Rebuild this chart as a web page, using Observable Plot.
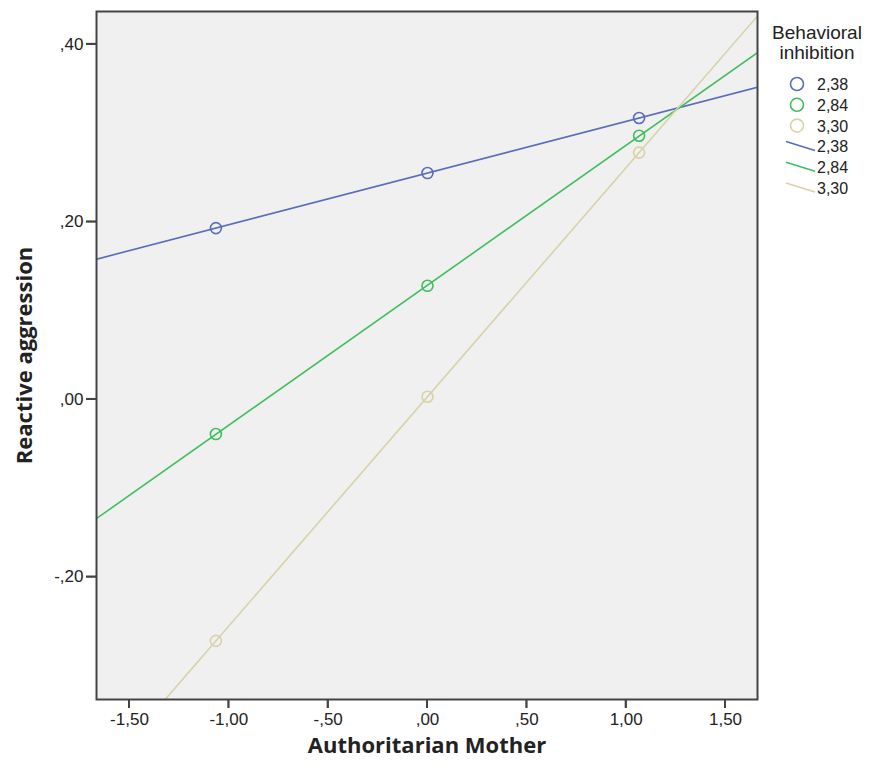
<!DOCTYPE html>
<html>
<head>
<meta charset="utf-8">
<script src="https://cdn.jsdelivr.net/npm/d3@7"></script>
<script src="https://cdn.jsdelivr.net/npm/@observablehq/plot@0.6"></script>
<style>
  html, body { margin: 0; padding: 0; background: #fff; }
  #wrap { position: relative; width: 872px; height: 771px; }
  #legend { position: absolute; left: 0; top: 0; }
</style>
</head>
<body>
<div id="wrap"></div>
<script>
// ---- Data ----
const groups = ["2,38", "2,84", "3,30"];          // Behavioral inhibition levels
const colors = ["#5a6dbb", "#3fbf5c", "#d8d2a6"];
const xPoints = [-1.065, 0, 1.065];                 // Authoritarian Mother (points)
const yBlue  = [0.193, 0.255, 0.317];
const yGreen = [-0.039, 0.128, 0.297];
const yTan   = [-0.272, 0.003, 0.278];
const xTicks = [-1.5, -1.0, -0.5, 0, 0.5, 1.0, 1.5];
const yTicks = [-0.2, 0, 0.2, 0.4];
const xDomain = [-1.666, 1.661];
const yDomain = [-0.338, 0.437];
const legendTitle = ["Behavioral", "inhibition"];

// ---- Build tables ----
const series = [yBlue, yGreen, yTan];
const points = [];
series.forEach((ys, i) => ys.forEach((y, j) => points.push({x: xPoints[j], y, g: groups[i]})));

// least-squares fit line for each group, extended across the x domain
const lines = [];
series.forEach((ys, i) => {
  const mx = d3.mean(xPoints), my = d3.mean(ys);
  const b = d3.sum(xPoints, (x, j) => (x - mx) * (ys[j] - my)) / d3.sum(xPoints, x => (x - mx) ** 2);
  const a = my - b * mx;
  [xDomain[0] - 0.2, xDomain[1] + 0.2].forEach(x => lines.push({x, y: a + b * x, g: groups[i]}));
});

const fmt = d => d3.format(".2f")(d).replace("\u2212", "-").replace(/^(-?)0\./, "$1.").replace(".", ",");

const W = 872, H = 771, mL = 96, mR = 115, mT = 11, mB = 72;

const chart = Plot.plot({
  width: W,
  height: H,
  marginLeft: mL,
  marginRight: mR,
  marginTop: mT,
  marginBottom: mB,
  style: {fontFamily: "'Liberation Sans', Arial, sans-serif", fontSize: "17px", color: "#222", background: "#fff"},
  x: {domain: xDomain, ticks: xTicks, tickFormat: fmt, tickSize: 9, tickPadding: 4, label: null},
  y: {domain: yDomain, ticks: yTicks, tickFormat: fmt, tickSize: 10, tickPadding: 3, label: null},
  color: {domain: groups, range: colors},
  marks: [
    Plot.frame({fill: "#f0f0f0", stroke: null}),
    Plot.line(lines, {x: "x", y: "y", z: "g", stroke: "g", strokeWidth: 1.6, clip: true}),
    Plot.dot(points, {x: "x", y: "y", stroke: "g", r: 5.5, strokeWidth: 1.6, fill: "none"}),
    Plot.frame({stroke: "#444", strokeWidth: 2}),
    Plot.text(["Authoritarian Mother"], {frameAnchor: "bottom", dy: 53, textAnchor: "middle", fontSize: 22, fontWeight: "bold", fontFamily: "'Open Sans', sans-serif", fill: "#222"}),
    Plot.text(["Reactive aggression"], {frameAnchor: "left", dx: -72, textAnchor: "middle", rotate: -90, fontSize: 22, fontWeight: "bold", fontFamily: "'Open Sans', sans-serif", fill: "#222"})
  ]
});
document.getElementById("wrap").appendChild(chart);

// ---- Overlay: tick marks (positioned by the chart's own scales) and legend ----
const ns = "http://www.w3.org/2000/svg";
const lg = document.createElementNS(ns, "svg");
lg.setAttribute("id", "legend");
lg.setAttribute("width", W);
lg.setAttribute("height", H);
lg.style.pointerEvents = "none";
const sx = chart.scale("x"), sy = chart.scale("y");
const addLine = (x1, y1, x2, y2, stroke, sw) => {
  const l = document.createElementNS(ns, "line");
  l.setAttribute("x1", x1); l.setAttribute("y1", y1);
  l.setAttribute("x2", x2); l.setAttribute("y2", y2);
  l.setAttribute("stroke", stroke); l.setAttribute("stroke-width", sw);
  lg.appendChild(l);
};
xTicks.forEach(t => { const px = sx.apply(t); addLine(px, H - mB, px, H - mB + 9, "#444", 2); });
yTicks.forEach(t => { const py = sy.apply(t); addLine(mL - 10, py, mL, py, "#444", 2); });

const font = "'Liberation Sans', Arial, sans-serif";
legendTitle.forEach((t, i) => {
  const el = document.createElementNS(ns, "text");
  el.setAttribute("x", 817);
  el.setAttribute("y", 39 + i * 20);
  el.setAttribute("text-anchor", "middle");
  el.setAttribute("font-family", font);
  el.setAttribute("font-size", 19);
  el.setAttribute("fill", "#222");
  el.textContent = t;
  lg.appendChild(el);
});
const rowY = i => 84 + i * 20.8;
groups.forEach((g, i) => {
  const c = document.createElementNS(ns, "circle");
  c.setAttribute("cx", 797); c.setAttribute("cy", rowY(i)); c.setAttribute("r", 6.5);
  c.setAttribute("fill", "none"); c.setAttribute("stroke", colors[i]); c.setAttribute("stroke-width", 1.6);
  lg.appendChild(c);
});
groups.forEach((g, i) => {
  const y = rowY(i + 3);
  addLine(786, y - 5, 815, y + 4, colors[i], 1.6);
});
[...groups, ...groups].forEach((g, i) => {
  const el = document.createElementNS(ns, "text");
  el.setAttribute("x", 817);
  el.setAttribute("y", rowY(i) + 6);
  el.setAttribute("font-family", font);
  el.setAttribute("font-size", 16);
  el.setAttribute("fill", "#222");
  el.textContent = g;
  lg.appendChild(el);
});
document.getElementById("wrap").appendChild(lg);
</script>
</body>
</html>
